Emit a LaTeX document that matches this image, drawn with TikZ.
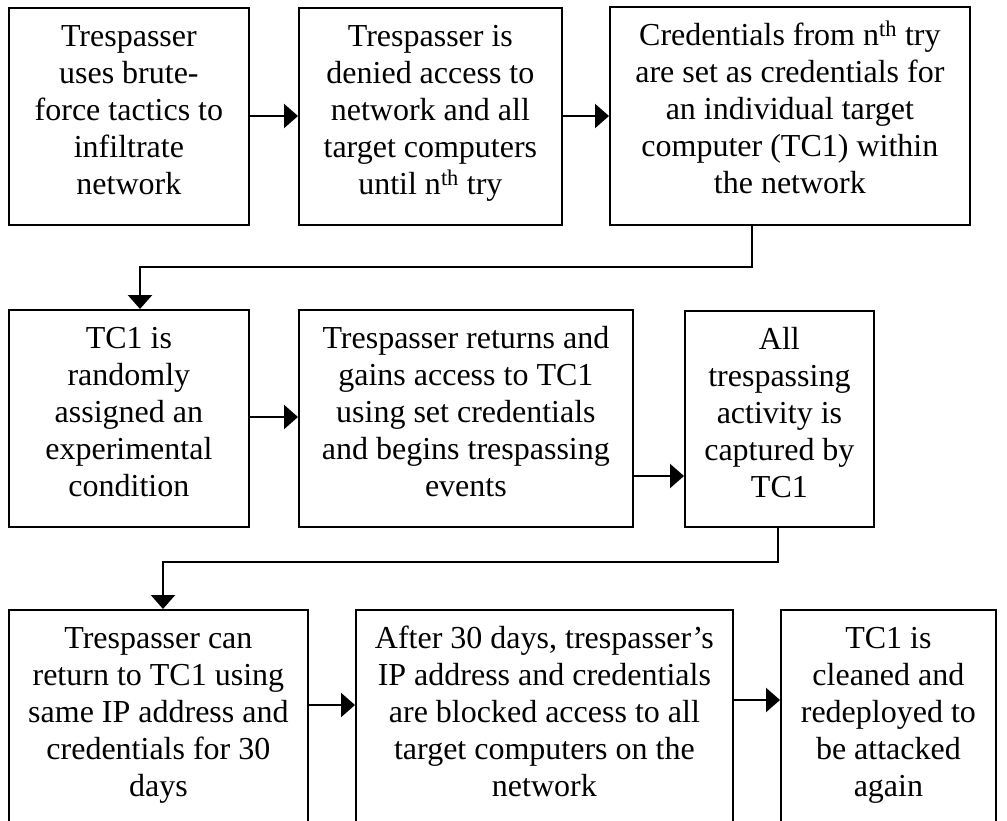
\documentclass[tikz,border=0pt]{standalone}
\usepackage{fontspec}
\setmainfont{Liberation Serif}
\usetikzlibrary{arrows.meta,calc}
\begin{document}
\begin{tikzpicture}[x=1pt,y=1pt,
  box/.style={draw=black,line width=1.8pt,inner sep=0pt,anchor=north west},
  txt/.style={align=center,inner sep=0pt,anchor=north,font=\fontsize{32pt}{37pt}\selectfont},
  conn/.style={line width=2.4pt},
  arr/.style={conn,-{Triangle[width=24pt,length=14pt]}}]
\useasboundingbox (0,0) rectangle (1007,-820);
\clip (0,0) rectangle (1007,-820);
% row 1
\node[box,minimum width=240pt,minimum height=217pt] (b1) at (8,-7) {};
\node[box,minimum width=263pt,minimum height=217pt] (b2) at (298,-7) {};
\node[box,minimum width=360pt,minimum height=218pt] (b3) at (609,-6) {};
% row 2
\node[box,minimum width=240pt,minimum height=217pt] (b4) at (8,-309) {};
\node[box,minimum width=334pt,minimum height=217pt] (b5) at (298,-309) {};
\node[box,minimum width=189pt,minimum height=216pt] (b6) at (684,-310) {};
% row 3
\node[box,minimum width=299pt,minimum height=240pt] (b7) at (8,-609) {};
\node[box,minimum width=377pt,minimum height=240pt] (b8) at (355,-609) {};
\node[box,minimum width=215pt,minimum height=240pt] (b9) at (780,-609) {};
% texts
\node[txt] (t1) at ([yshift=-13pt]b1.north) {\strut Trespasser\\uses brute-\\force tactics to\\infiltrate\\network};
\node[txt] (t2) at ([yshift=-13pt]b2.north) {\strut Trespasser is\\denied access to\\network and all\\target computers\\until n\textsuperscript{th} try};
\node[txt] (t3) at ([yshift=-13pt]b3.north) {\strut Credentials from n\textsuperscript{th} try\\are set as credentials for\\an individual target\\computer (TC1) within\\the network};
\node[txt] (t4) at ([yshift=-13pt]b4.north) {\strut TC1 is\\randomly\\assigned an\\experimental\\condition};
\node[txt] (t5) at ([yshift=-13pt]b5.north) {\strut Trespasser returns and\\gains access to TC1\\using set credentials\\and begins trespassing\\events};
\node[txt] (t6) at ([yshift=-13pt]b6.north) {\strut All\\trespassing\\activity is\\captured by\\TC1};
\node[txt] (t7) at ([yshift=-13pt]b7.north) {\strut Trespasser can\\return to TC1 using\\same IP address and\\credentials for 30\\days};
\node[txt] (t8) at ([yshift=-13pt]b8.north) {\strut After 30 days, trespasser’s\\IP address and credentials\\are blocked access to all\\target computers on the\\network};
\node[txt] (t9) at ([yshift=-13pt]b9.north) {\strut TC1 is\\cleaned and\\redeployed to\\be attacked\\again};
% horizontal arrows
\coordinate (r1) at (0,-116);
\coordinate (r2a) at (0,-417);
\coordinate (r2b) at (0,-476);
\coordinate (r3a) at (0,-705);
\coordinate (r3b) at (0,-700);
\draw[arr] (b1.east |- r1) -- (b2.west |- r1);
\draw[arr] (b2.east |- r1) -- (b3.west |- r1);
\draw[arr] (b4.east |- r2a) -- (b5.west |- r2a);
\draw[arr] (b5.east |- r2b) -- (b6.west |- r2b);
\draw[arr] (b7.east |- r3a) -- (b8.west |- r3a);
\draw[arr] (b8.east |- r3b) -- (b9.west |- r3b);
% elbow connectors
\coordinate (k1) at (752,-267);
\coordinate (k2) at (140,-267);
\draw[arr] (b3.south -| k1) -- (k1) -- (k2) -- (k2 |- b4.north);
\coordinate (k3) at (778,-562);
\coordinate (k4) at (163,-562);
\draw[arr] (b6.south -| k3) -- (k3) -- (k4) -- (k4 |- b7.north);
\end{tikzpicture}
\end{document}
